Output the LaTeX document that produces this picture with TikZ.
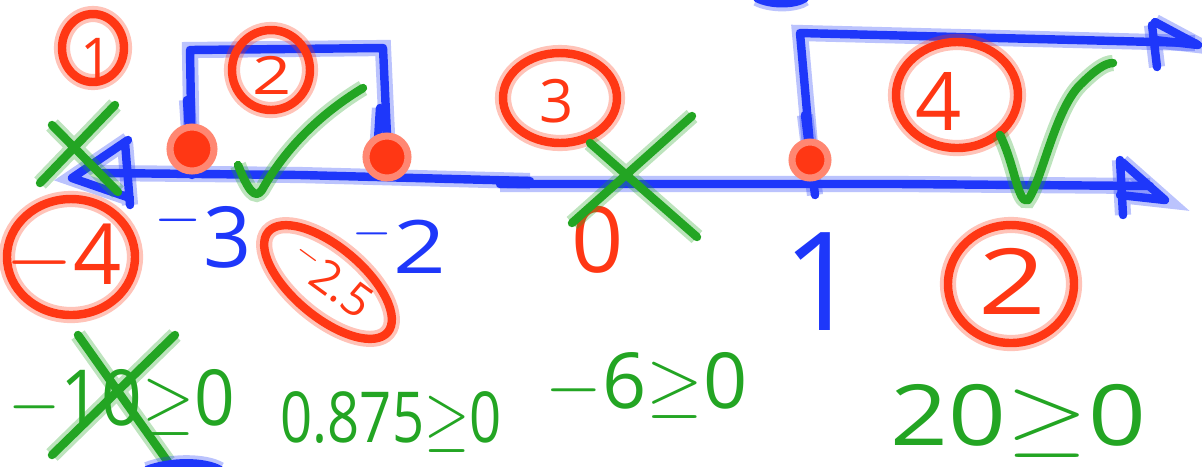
\documentclass[tikz,border=0pt]{standalone}
\usepackage{fontspec}
\setmainfont{Open Sans}
\definecolor{inkred}{RGB}{255,55,20}
\definecolor{inkblue}{RGB}{30,55,250}
\definecolor{inkgreen}{RGB}{35,165,35}
\newcommand{\narrow}[2]{\scalebox{#1}[1]{#2}}
\tikzset{
  pen/.style={draw=#1, line width=2.4pt, line cap=round, line join=round,
    preaction={draw=#1, opacity=0.3, line width=4.6pt}},
  redpen/.style={pen=inkred},
  bluepen/.style={pen=inkblue},
  greenpen/.style={pen=inkgreen},
  dot/.style={circle, fill=inkred, draw=inkred!60, line width=2pt, inner sep=0pt},
  mark/.style={inner sep=0pt, font=\fontsize{#1}{#1}\selectfont},
}
\begin{document}
\begin{tikzpicture}[x=0.1mm, y=-0.1mm]
\useasboundingbox (0,0) rectangle (1202,466);
% number line
\draw[bluepen] (100,173) -- (300,175) -- (530,181);
\draw[bluepen] (500,184) -- (900,184) -- (1150,186);
\draw[bluepen] (128,140) -- (72,178) -- (130,198) (125,142) -- (130,205);
\draw[bluepen] (1122,162) -- (1165,200) -- (1120,195) (1120,160) -- (1123,215);
% intervals
\draw[bluepen] (192,173) -- (190,50) -- (383,48) -- (388,157);
\draw[bluepen] (187,100) -- (192,175) (380,108) -- (377,155);
\draw[bluepen] (812,168) -- (800,33) -- (1195,43);
\draw[bluepen] (805,115) -- (815,195);
\draw[bluepen] (1155,22) -- (1198,45) -- (1155,40) (1152,25) -- (1157,67);
\node[dot, minimum size=4.4mm] (pa) at (192,149) {};
\node[dot, minimum size=4.2mm] (pb) at (387,157) {};
\node[dot, minimum size=3.6mm] (pc) at (810,160) {};
% point labels
\node[mark=24, text=inkblue, anchor=base east] (lm3) at (252,267) {$^{-}$3};
\node[mark=21, text=inkblue, anchor=base east] (lm2) at (447,273) {$^{-}$\narrow{1.25}{2}};
\node[mark=26, text=inkred] (l0) at (598,240) {0};
\node[mark=39, text=inkblue, anchor=base] (l1) at (822,330) {1};
% region numbers
\node[mark=16, text=inkred] (r1) at (97,58) {1};
\draw[redpen] (93,48) ellipse [x radius=31, y radius=34];
\node[mark=15, text=inkred] (r2) at (272,75) {\narrow{1.3}{2}};
\draw[redpen] (271,70) ellipse [x radius=39, y radius=40];
\node[mark=17, text=inkred] (r3) at (557,101) {3};
\draw[redpen] (560,98) ellipse [x radius=57, y radius=45];
\node[mark=23, text=inkred] (r4) at (939,101) {4};
\draw[redpen] (957,95) ellipse [x radius=61, y radius=53];
\node[mark=24, text=inkred] (t1) at (64,258) {$-$4};
\draw[redpen] (71,257) ellipse [x radius=64, y radius=58];
\node[mark=26, text=inkred] (t4) at (1012,281) {\narrow{1.3}{2}};
\draw[redpen] (1011,284) ellipse [x radius=63, y radius=59];
\node[mark=13, text=inkred] (t2) at (331,280) {\rotatebox{-36}{$^{-}$2.5}};
\draw[redpen, rotate around={-40:(328,282)}] (328,282) ellipse [x radius=78, y radius=35];
% marks
\draw[greenpen] (40,183) -- (115,105) (52,125) -- (118,192);
\draw[greenpen] (238,165) .. controls (248,190) and (255,200) .. (262,190) .. controls (290,140) and (330,108) .. (363,88);
\draw[greenpen] (572,223) -- (692,116) (590,143) -- (697,237);
\draw[greenpen] (1000,135) .. controls (1015,165) and (1018,205) .. (1028,200) .. controls (1042,180) and (1055,110) .. (1080,85) .. controls (1095,70) and (1105,63) .. (1113,63);
% tests
\node[mark=22, text=inkgreen, anchor=base west] (e1) at (8,425) {\narrow{0.92}{$-$10$\geq$0}};
\draw[greenpen] (78,335) -- (168,462) (52,455) -- (175,335);
\node[mark=20, text=inkgreen, anchor=base west] (e2) at (280,442) {\narrow{0.8}{0.875$\geq$0}};
\node[mark=22, text=inkgreen, anchor=base west] (e3) at (545,408) {$-$6$\geq$0};
\node[mark=24, text=inkgreen, anchor=base west] (e4) at (890,445) {\narrow{1.2}{20$\geq$0}};
% stray strokes
\draw[bluepen] (757,-2) .. controls (770,5) and (795,5) .. (805,-2);
\draw[bluepen] (147,470) .. controls (170,461) and (205,461) .. (220,470);
\end{tikzpicture}
\end{document}
